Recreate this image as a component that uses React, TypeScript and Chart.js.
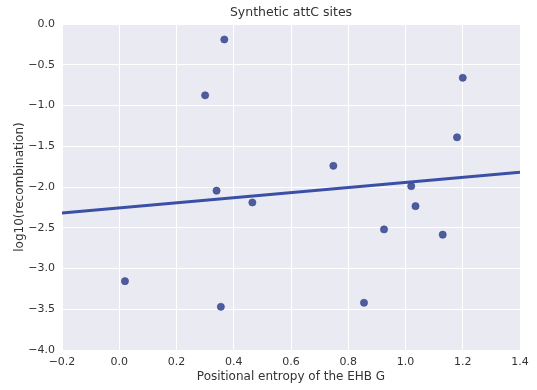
import React, { useEffect, useRef } from "react";
import { Chart, registerables } from "chart.js";

Chart.register(...registerables);

const entropyX = [0.367, 0.30, 0.34, 0.465, 0.02, 0.355, 0.748, 1.02, 1.2, 1.18, 1.035, 0.925, 1.13, 0.855];
const log10Rec = [-0.19, -0.875, -2.045, -2.19, -3.155, -3.47, -1.74, -1.99, -0.66, -1.39, -2.235, -2.52, -2.585, -3.42];
const fitX = [-0.2, 1.4];
const fitY = [-2.32, -1.82];

const TITLE = "Synthetic attC sites";
const X_LABEL = "Positional entropy of the EHB G";
const Y_LABEL = "log10(recombination)";

const fmt = (v: number) => {
  const s = Number(v).toFixed(1);
  return s === "-0.0" ? "0.0" : s.replace("-", "\u2212");
};

const bgPlugin = {
  id: "bgPlugin",
  beforeDraw(chart: any) {
    const { ctx, chartArea } = chart;
    ctx.save();
    ctx.fillStyle = "#EAEAF2";
    ctx.fillRect(chartArea.left, chartArea.top, chartArea.right - chartArea.left, chartArea.bottom - chartArea.top);
    ctx.restore();
  },
};

export default function App() {
  const ref = useRef<HTMLCanvasElement>(null);
  useEffect(() => {
    if (!ref.current) return;
    const font = "'DejaVu Sans', sans-serif";
    const textColor = "#333333";
    const chart = new Chart(ref.current, {
      type: "scatter",
      data: {
        datasets: [
          {
            label: "fit",
            data: fitX.map((x, i) => ({ x, y: fitY[i] })),
            showLine: true,
            borderColor: "#3A50A6",
            borderWidth: 3,
            pointRadius: 0,
            fill: false,
          },
          {
            label: "sites",
            data: entropyX.map((x, i) => ({ x, y: log10Rec[i] })),
            backgroundColor: "#4C5C9E",
            borderColor: "#3E4C88",
            borderWidth: 0.6,
            pointRadius: 3.6,
          },
        ],
      },
      options: {
        responsive: false,
        animation: false,
        layout: { padding: { left: 0, right: 17, top: 0, bottom: 0 } },
        plugins: {
          legend: { display: false },
          tooltip: { enabled: false },
          title: {
            display: true,
            text: TITLE,
            fullSize: false,
            color: textColor,
            font: { family: font, size: 12.5, lineHeight: "14px", weight: "normal" },
            padding: { top: 6, bottom: 4 },
          },
        },
        scales: {
          x: {
            type: "linear",
            min: -0.2,
            max: 1.4,
            border: { display: false },
            grid: { color: "#FFFFFF", lineWidth: 1, drawTicks: false },
            ticks: {
              stepSize: 0.2,
              padding: 6,
              color: textColor,
              font: { family: font, size: 11 },
              callback: (v: any) => fmt(v),
            },
            title: {
              display: true,
              text: X_LABEL,
              color: textColor,
              font: { family: font, size: 12 },
              padding: { top: 0, bottom: 6 },
            },
            afterFit: (s: any) => {
              s.height = 40;
            },
          },
          y: {
            type: "linear",
            min: -4,
            max: 0,
            border: { display: false },
            grid: { color: "#FFFFFF", lineWidth: 1, drawTicks: false },
            ticks: {
              stepSize: 0.5,
              padding: 7,
              color: textColor,
              font: { family: font, size: 11 },
              callback: (v: any) => fmt(v),
            },
            title: {
              display: true,
              text: Y_LABEL,
              color: textColor,
              font: { family: font, size: 12 },
              padding: { top: 13, bottom: 0 },
            },
            afterFit: (s: any) => {
              s.width = 62;
            },
          },
        },
      },
      plugins: [bgPlugin],
    });
    return () => chart.destroy();
  }, []);
  return (
    <div style={{ position: "fixed", left: 0, top: 0, width: 537, height: 390, background: "#fff" }}>
      <canvas ref={ref} width={537} height={390} />
    </div>
  );
}
